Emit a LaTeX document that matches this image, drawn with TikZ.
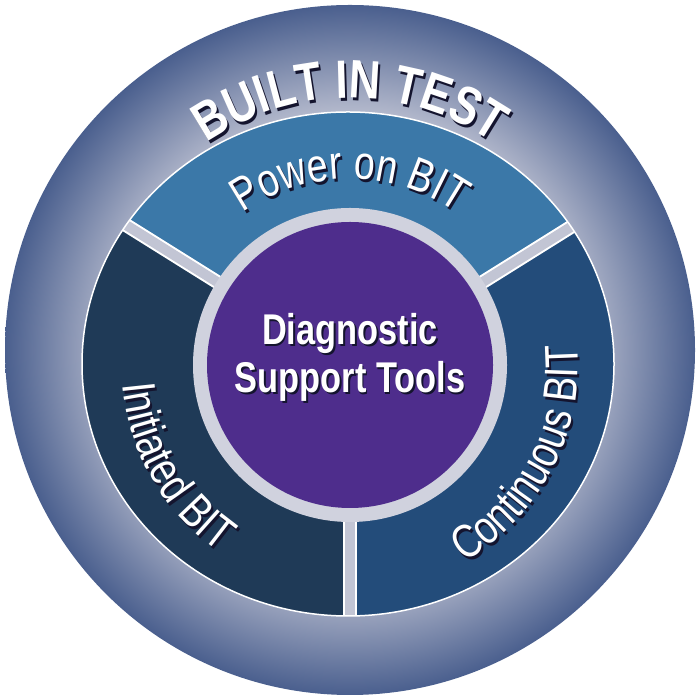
\documentclass[tikz,border=0pt]{standalone}
\usepackage{fontspec}
\usetikzlibrary{decorations.text}
\newfontfamily\bitfont[FakeStretch=0.8]{Liberation Sans}
\newcommand{\bigbold}{\bitfont\bfseries\fontsize{54}{58}\selectfont}
\newcommand{\segfont}{\bitfont\fontsize{47}{50}\selectfont}
\definecolor{ringlight}{HTML}{C4C7D6}
\definecolor{ringdark}{HTML}{4A5F8E}
\definecolor{powcol}{HTML}{3B78A8}
\definecolor{inicol}{HTML}{1F3A57}
\definecolor{concol}{HTML}{234C7A}
\definecolor{diagcol}{HTML}{4E2D8C}
\definecolor{gapcol}{HTML}{C2C5D4}
\definecolor{shadowcol}{HTML}{14142E}
\pgfdeclareradialshading{bitring}{\pgfpoint{0bp}{0bp}}{color(0bp)=(ringlight); color(16bp)=(ringlight); color(25bp)=(ringdark); color(50bp)=(ringdark)}
\begin{document}
\begin{tikzpicture}[x=1pt,y=1pt,
  arctext/.style={decorate,decoration={text along path,text align=center,text color=white,text={#1}}},
  arcshadow/.style={decorate,decoration={text along path,text align=center,text color=shadowcol,text={#1}}},
  gapline/.style={line width=#1}]
  \useasboundingbox (0,0) rectangle (700,700);
  % outer ring
  \coordinate (outer) at (350,350);
  \coordinate (seg) at (348,336);
  \coordinate (core) at (350,335);
  \shade[shading=bitring] (outer) circle (345);
  % three segments
  \begin{scope}
    \clip (seg) ellipse (266 and 252);
    \fill[powcol] (core) -- ++(32:420) -- ([shift={(90:420)}]core) -- ([shift={(148:420)}]core) -- cycle;
    \fill[inicol] (core) -- ++(148:420) -- ([shift={(210:420)}]core) -- ([shift={(270:420)}]core) -- cycle;
    \fill[concol] (core) -- ++(270:420) -- ([shift={(330:420)}]core) -- ([shift={(32:420)}]core) -- cycle;
    \foreach \ang in {32,148,270} {
      \draw[white,gapline=14] (core) -- ++(\ang:420);
      \draw[gapcol,gapline=10] (core) -- ++(\ang:420);
    }
  \end{scope}
  \draw[white,line width=1.5] (seg) ellipse (266 and 252);
  % centre
  \fill[ringlight!80!white] (core) circle (157);
  \node[circle,fill=diagcol,minimum size=286,inner sep=0] (diag) at (core) {};
  \node[text=shadowcol,align=center,font=\bigbold\fontsize{43}{48}\selectfont] at ([shift={(1.5,5.5)}]diag.center) {Diagnostic\\Support Tools};
  \node[text=white,align=center,font=\bigbold\fontsize{43}{48}\selectfont] (diaglabel) at ([yshift=8]diag.center) {Diagnostic\\Support Tools};
  % curved labels
  \path[arcshadow={|\bigbold|BUILT IN TEST}] ([shift={(2,-3)}]outer) ++(150:252) arc (150:30:252);
  \path[arctext={|\bigbold|BUILT IN TEST}] (outer) ++(150:252) arc (150:30:252);
  \path[arcshadow={|\segfont|Power on BIT}] ([shift={(2,-3)}]core) ++(145:186) arc (145:35:186);
  \path[arctext={|\segfont|Power on BIT}] (core) ++(145:186) arc (145:35:186);
  \path[arcshadow={|\segfont|Initiated BIT}] ([shift={(2,-3)}]core) ++(160:228) arc (160:260:228);
  \path[arctext={|\segfont|Initiated BIT}] (core) ++(160:228) arc (160:260:228);
  \path[arcshadow={|\segfont|Continuous BIT}] ([shift={(2,-3)}]core) ++(-80:228) arc (-80:25:228);
  \path[arctext={|\segfont|Continuous BIT}] (core) ++(-80:228) arc (-80:25:228);
\end{tikzpicture}
\end{document}
